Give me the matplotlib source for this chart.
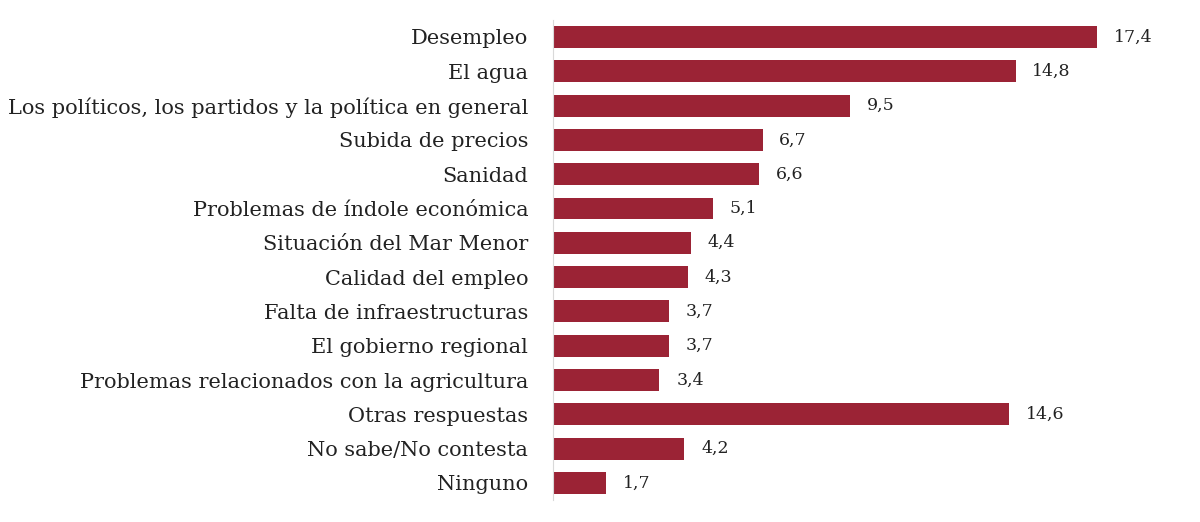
import matplotlib.pyplot as plt

# problemas principales (%)
categorias = [
    "Desempleo",
    "El agua",
    "Los políticos, los partidos y la política en general",
    "Subida de precios",
    "Sanidad",
    "Problemas de índole económica",
    "Situación del Mar Menor",
    "Calidad del empleo",
    "Falta de infraestructuras",
    "El gobierno regional",
    "Problemas relacionados con la agricultura",
    "Otras respuestas",
    "No sabe/No contesta",
    "Ninguno",
]
valores = [17.4, 14.8, 9.5, 6.7, 6.6, 5.1, 4.4, 4.3, 3.7, 3.7, 3.4, 14.6, 4.2, 1.7]

plt.rcParams["font.family"] = ["DejaVu Serif"]

fig = plt.figure(figsize=(12, 5.22), dpi=100)
ax = fig.add_axes([0.461, 0.042, 0.53, 0.92])

pos = list(range(len(categorias)))
ax.barh(pos, valores, height=0.64, color="#9b2335")

for y, v in zip(pos, valores):
    ax.annotate(f"{v:.1f}".replace(".", ","), (v, y), xytext=(12, 0),
                textcoords="offset points", va="center", ha="left",
                fontsize=12.5, color="#222222")

ax.set_yticks(pos)
ax.set_yticklabels(categorias, fontsize=15, color="#222222")
ax.set_ylim(len(categorias) - 0.5, -0.5)
ax.set_xlim(0, 20.35)
ax.set_xticks([])
ax.tick_params(axis="y", length=0, pad=18)

for s in ["top", "right", "bottom"]:
    ax.spines[s].set_visible(False)
ax.spines["left"].set_color("#d9d9d9")
ax.spines["left"].set_linewidth(0.8)

fig.savefig("out.png", dpi=100)
